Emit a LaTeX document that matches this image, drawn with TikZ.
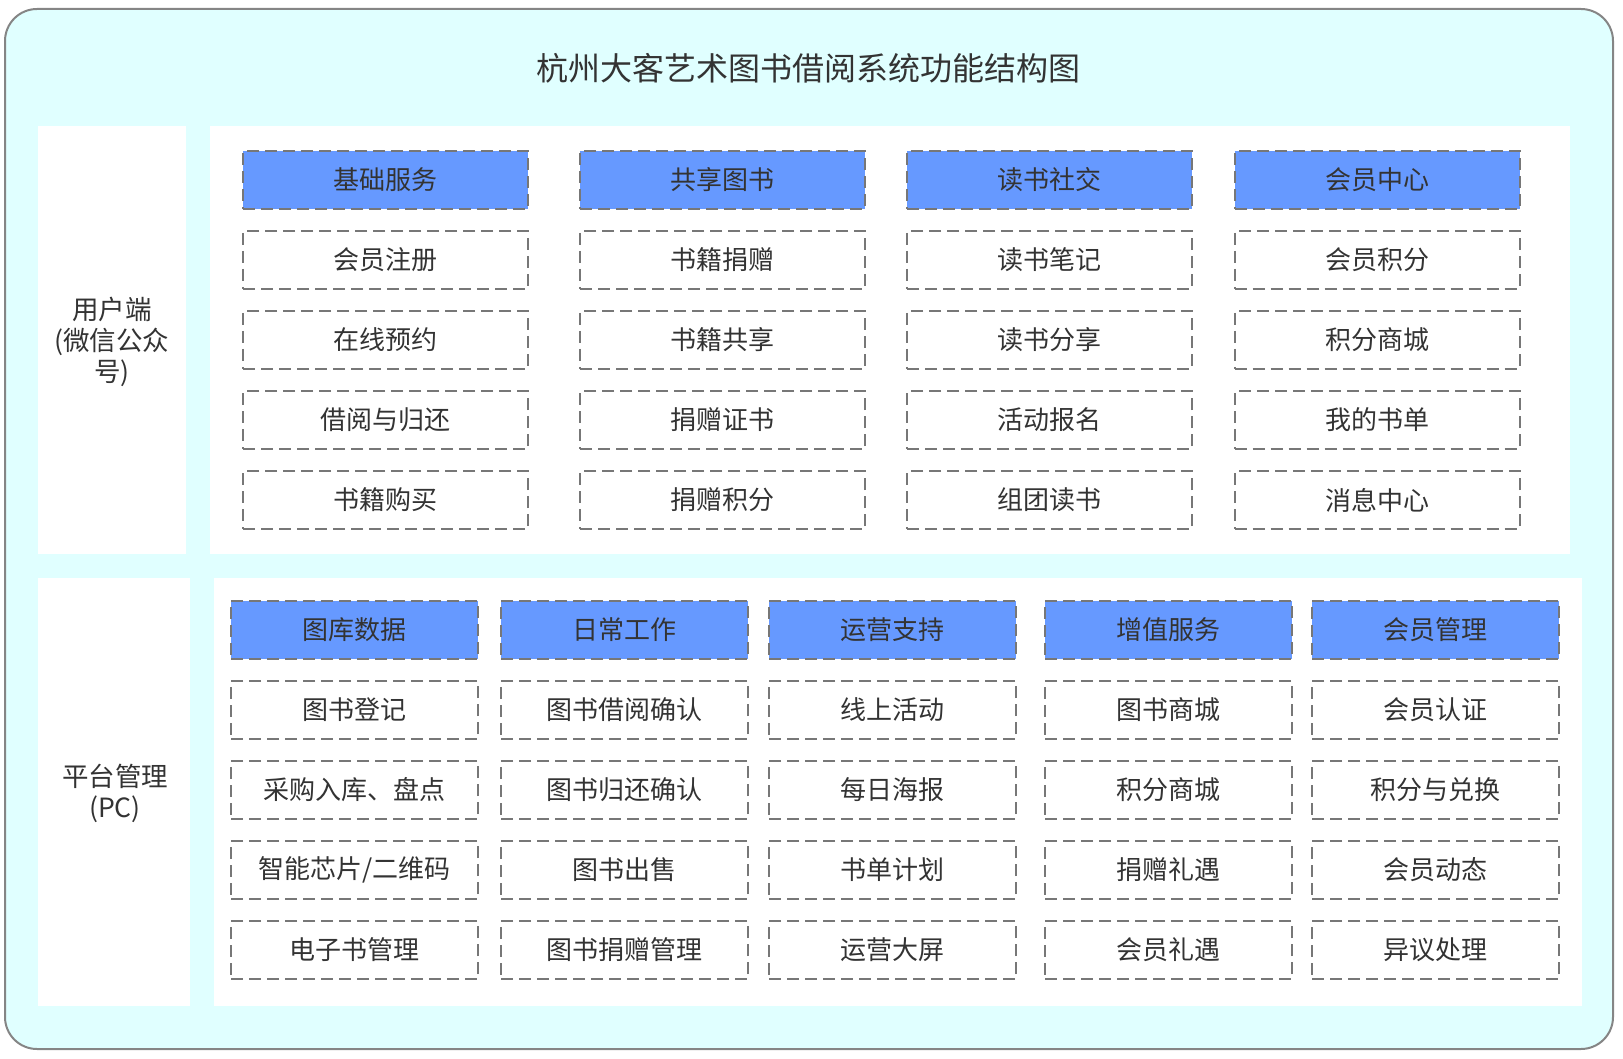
\documentclass[tikz,border=0pt]{standalone}
\usepackage{fontspec}
\setmainfont{Noto Sans CJK SC}
\definecolor{bgcyan}{HTML}{E0FFFF}
\definecolor{hdblue}{HTML}{6699FF}
\definecolor{bordergray}{HTML}{777777}
\definecolor{outergray}{HTML}{858585}
\definecolor{txt}{HTML}{333333}
\tikzset{
  boxbase/.style={draw=bordergray, line width=2pt, dash pattern=on 12pt off 6pt,
    text=txt, font=\fontsize{26}{30}\selectfont, inner sep=0pt, minimum height=58pt},
  hdbox/.style={boxbase, fill=hdblue},
  itbox/.style={boxbase, fill=white},
  toprow/.style={minimum width=285pt},
  botrow/.style={minimum width=247pt},
  sidelabel/.style={text=txt, font=\fontsize{26.5}{31}\selectfont, align=center, inner sep=0pt},
  panel/.style={fill=white, draw=none}
}
\begin{document}
\begin{tikzpicture}[x=1pt,y=-1pt]
\useasboundingbox (0,0) rectangle (1623,1059);
% outer frame
\draw[fill=bgcyan, draw=outergray, line width=2pt, rounded corners=32pt] (5,9) rectangle (1613,1049);
\node[text=txt, font=\fontsize{32}{36}\selectfont, inner sep=0pt] (title) at (808,68) {杭州大客艺术图书借阅系统功能结构图};
% panels
\fill[panel] (38,126) rectangle (186,554);
\fill[panel] (210,126) rectangle (1570,554);
\fill[panel] (38,578) rectangle (190,1006);
\fill[panel] (214,578) rectangle (1582,1006);
% side labels
\node[sidelabel] (userlbl) at (112,342) {用户端\\(微信公众\\号)};
\node[sidelabel] (pclbl) at (115,793) {平台管理\\(PC)};
% top section
\foreach \cx/\col/\h/\a/\b/\c/\d in {
  385.5/1/基础服务/会员注册/在线预约/借阅与归还/书籍购买,
  722.5/2/共享图书/书籍捐赠/书籍共享/捐赠证书/捐赠积分,
  1049.5/3/读书社交/读书笔记/读书分享/活动报名/组团读书,
  1377/4/会员中心/会员积分/积分商城/我的书单/消息中心}{
  \node[hdbox, toprow] (th\col) at (\cx,180) {\h};
  \node[itbox, toprow] (ta\col) at (\cx,260) {\a};
  \node[itbox, toprow] (tb\col) at (\cx,340) {\b};
  \node[itbox, toprow] (tc\col) at (\cx,420) {\c};
  \node[itbox, toprow] (td\col) at (\cx,500) {\d};
}
% bottom section
\foreach \cx/\col/\h/\a/\b/\c/\d in {
  354.5/1/图库数据/图书登记/采购入库、盘点/{智能芯片/二维码}/电子书管理,
  624.5/2/日常工作/图书借阅确认/图书归还确认/图书出售/图书捐赠管理,
  892.5/3/运营支持/线上活动/每日海报/书单计划/运营大屏,
  1168.5/4/增值服务/图书商城/积分商城/捐赠礼遇/会员礼遇,
  1435.5/5/会员管理/会员认证/积分与兑换/会员动态/异议处理}{
  \node[hdbox, botrow] (bh\col) at (\cx,630) {\h};
  \node[itbox, botrow] (ba\col) at (\cx,710) {\a};
  \node[itbox, botrow] (bb\col) at (\cx,790) {\b};
  \node[itbox, botrow] (bc\col) at (\cx,870) {\c};
  \node[itbox, botrow] (bd\col) at (\cx,950) {\d};
}
\end{tikzpicture}
\end{document}
